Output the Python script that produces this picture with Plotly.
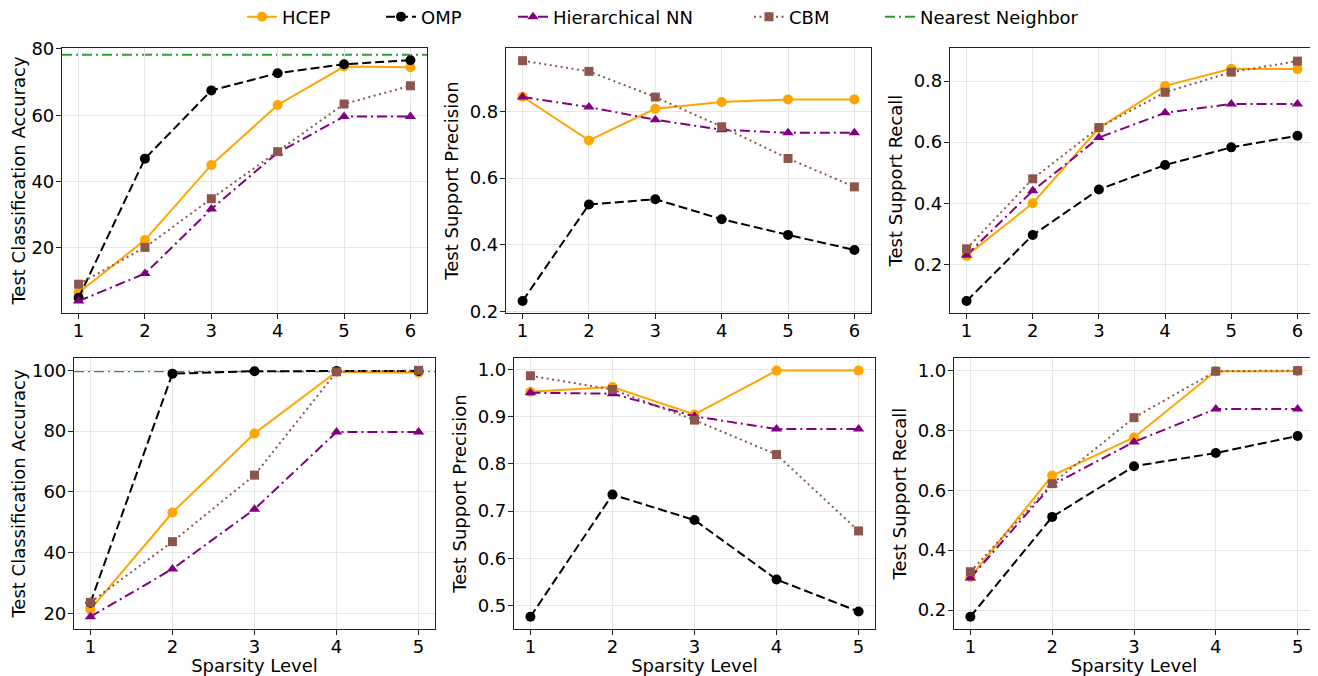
import plotly.graph_objects as go
from plotly.subplots import make_subplots

# ---------------- data ----------------
sparsity_top = [1, 2, 3, 4, 5, 6]
sparsity_bottom = [1, 2, 3, 4, 5]

# top row: accuracy / precision / recall
acc_top_hcep = [6.4, 22.3, 45.0, 63.1, 74.7, 74.5]
acc_top_omp = [4.9, 46.9, 67.5, 72.7, 75.4, 76.6]
acc_top_hnn = [3.9, 12.2, 31.7, 48.7, 59.6, 59.6]
acc_top_cbm = [9.0, 20.1, 34.8, 49.0, 63.4, 68.9]
acc_top_nn = 78.3

prec_top_hcep = [0.844, 0.713, 0.808, 0.828, 0.836, 0.836]
prec_top_omp = [0.232, 0.521, 0.537, 0.477, 0.430, 0.385]
prec_top_hnn = [0.843, 0.813, 0.775, 0.745, 0.736, 0.736]
prec_top_cbm = [0.952, 0.920, 0.843, 0.754, 0.659, 0.574]

rec_top_hcep = [0.228, 0.400, 0.646, 0.784, 0.840, 0.839]
rec_top_omp = [0.080, 0.296, 0.445, 0.525, 0.583, 0.621]
rec_top_hnn = [0.230, 0.441, 0.615, 0.696, 0.725, 0.725]
rec_top_cbm = [0.251, 0.480, 0.648, 0.763, 0.829, 0.865]

# bottom row
acc_bot_hcep = [21.3, 53.2, 79.2, 99.5, 99.2]
acc_bot_omp = [23.5, 98.9, 99.7, 99.8, 99.8]
acc_bot_hnn = [18.9, 34.6, 54.3, 79.7, 79.7]
acc_bot_cbm = [23.6, 43.6, 65.5, 99.5, 100.0]
acc_bot_nn = 99.7

prec_bot_hcep = [0.953, 0.963, 0.905, 0.998, 0.998]
prec_bot_omp = [0.476, 0.735, 0.681, 0.555, 0.487]
prec_bot_hnn = [0.951, 0.949, 0.901, 0.874, 0.874]
prec_bot_cbm = [0.987, 0.958, 0.893, 0.820, 0.658]

rec_bot_hcep = [0.310, 0.649, 0.776, 0.997, 0.997]
rec_bot_omp = [0.178, 0.511, 0.680, 0.724, 0.781]
rec_bot_hnn = [0.307, 0.618, 0.761, 0.871, 0.871]
rec_bot_cbm = [0.328, 0.622, 0.842, 0.997, 0.999]

method_names = ["HCEP", "OMP", "Hierarchical NN", "CBM"]
nn_name = "Nearest Neighbor"

# ---------------- styles ----------------
FONT = "DejaVu Sans"
styles = {
    "HCEP": dict(color="#FFA500", dash="solid", symbol="circle", msize=10),
    "OMP": dict(color="#000000", dash="9px,4px", symbol="circle", msize=10),
    "Hierarchical NN": dict(color="#800080", dash="10px,4px,2px,4px", symbol="triangle-up", msize=10),
    "CBM": dict(color="#8C564B", dash="2px,3.5px", symbol="square", msize=9),
}
nn_style = dict(color="#2CA02C", width=2, dash="10px,4px,2px,4px")
legend_ids = {"HCEP": "legend", "OMP": "legend2", "Hierarchical NN": "legend3",
              "CBM": "legend4", nn_name: "legend5"}

fig = make_subplots(rows=2, cols=3)

panels = [
    (1, 1, sparsity_top, [acc_top_hcep, acc_top_omp, acc_top_hnn, acc_top_cbm], acc_top_nn),
    (1, 2, sparsity_top, [prec_top_hcep, prec_top_omp, prec_top_hnn, prec_top_cbm], None),
    (1, 3, sparsity_top, [rec_top_hcep, rec_top_omp, rec_top_hnn, rec_top_cbm], None),
    (2, 1, sparsity_bottom, [acc_bot_hcep, acc_bot_omp, acc_bot_hnn, acc_bot_cbm], acc_bot_nn),
    (2, 2, sparsity_bottom, [prec_bot_hcep, prec_bot_omp, prec_bot_hnn, prec_bot_cbm], None),
    (2, 3, sparsity_bottom, [rec_bot_hcep, rec_bot_omp, rec_bot_hnn, rec_bot_cbm], None),
]

first = True
for row, col, xs, series, nn_val in panels:
    for name, ys in zip(method_names, series):
        st = styles[name]
        fig.add_trace(go.Scatter(
            x=xs, y=ys, mode="lines+markers", name=name,
            line=dict(color=st["color"], width=2, dash=st["dash"]),
            marker=dict(color=st["color"], symbol=st["symbol"], size=st["msize"]),
            showlegend=first, legend=legend_ids[name],
        ), row=row, col=col)
    if nn_val is not None:
        fig.add_hline(y=nn_val, row=row, col=col, line=nn_style, layer="below",
                      exclude_empty_subplots=False)
    first = False

# legend entry for the horizontal Nearest Neighbor reference line
fig.add_trace(go.Scatter(x=[None], y=[None], mode="lines", name=nn_name,
                         line=nn_style, showlegend=True, legend=legend_ids[nn_name]),
              row=1, col=1)

# ---------------- layout ----------------
# The page body adds an 8px offset; figure coordinates are screen coordinates minus 8.
OFF = 8
W, H = 1318 - OFF, 676 - OFF
def dx(a, b):
    return [(a - OFF) / W, (b - OFF) / W]
def dy(top, bottom):
    return [1 - (bottom - OFF) / H, 1 - (top - OFF) / H]

axis_common = dict(
    showline=True, mirror=True, linecolor="#222222", linewidth=1.2,
    ticks="outside", ticklen=5, tickwidth=1, tickcolor="#222222",
    showgrid=True, gridcolor="#E6E6E6", gridwidth=1, zeroline=False,
    automargin=False,
    tickfont=dict(family=FONT, size=18, color="black"),
)
title_font = dict(family=FONT, size=18, color="black")

x_domains = [dx(62, 427), dx(506, 871), dx(950, 1314), dx(74, 435), dx(514, 875), dx(954, 1314)]
y_domains = [dy(48, 313)] * 3 + [dy(358, 629)] * 3
x_ranges = [[0.75, 6.25]] * 3 + [[0.8, 5.2]] * 3
y_ranges = [[0.3, 80.3], [0.196, 0.99], [0.041, 0.908],
            [14.85, 104.05], [0.450, 1.0247], [0.137, 1.041]]
y_ticks = [[20, 40, 60, 80], [0.2, 0.4, 0.6, 0.8], [0.2, 0.4, 0.6, 0.8],
           [20, 40, 60, 80, 100], [0.5, 0.6, 0.7, 0.8, 0.9, 1.0], [0.2, 0.4, 0.6, 0.8, 1.0]]
y_formats = ["d", ".1f", ".1f", "d", ".1f", ".1f"]
y_titles = ["Test Classification Accuracy", "Test Support Precision", "Test Support Recall"] * 2

for i in range(6):
    sfx = "" if i == 0 else str(i + 1)
    xs = sparsity_top if i < 3 else sparsity_bottom
    fig.layout["xaxis" + sfx].update(
        domain=x_domains[i], range=x_ranges[i], tickvals=xs, **axis_common,
        ticklabelstandoff=-4,
        title=dict(text="Sparsity Level" if i >= 3 else "", font=title_font, standoff=4),
    )
    fig.layout["yaxis" + sfx].update(
        domain=y_domains[i], range=y_ranges[i], tickvals=y_ticks[i],
        tickformat=y_formats[i], **axis_common,
        ticklabelstandoff=-2,
        title=dict(text=y_titles[i], font=title_font, standoff=6),
    )

legend_text_x = {"HCEP": 288, "OMP": 427, "Hierarchical NN": 559, "CBM": 795, nn_name: 926}
leg_layout = {}
for name, lid in legend_ids.items():
    leg_layout[lid] = dict(
        x=(legend_text_x[name] - OFF - 46) / W, xanchor="left",
        y=1 - (17 - OFF) / H, yanchor="middle", orientation="h",
        bgcolor="rgba(0,0,0,0)", borderwidth=0,
        font=dict(family=FONT, size=18, color="black"),
    )

fig.update_layout(
    template="none",
    width=W, height=H,
    margin=dict(l=0, r=0, t=0, b=0, autoexpand=False),
    paper_bgcolor="white", plot_bgcolor="rgba(0,0,0,0)",
    font=dict(family=FONT, size=18, color="black"),
    **leg_layout,
)

fig.write_html("out.html")
